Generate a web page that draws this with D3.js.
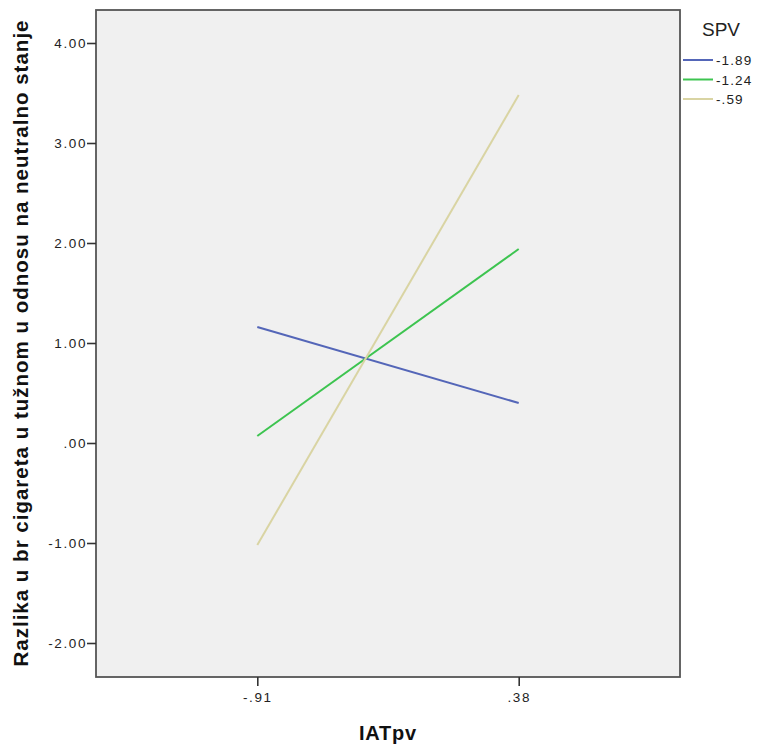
<!DOCTYPE html>
<html>
<head>
<meta charset="utf-8">
<script src="https://cdn.jsdelivr.net/npm/d3@7"></script>
<style>
  html, body { margin: 0; padding: 0; background: #fff; }
  svg text { font-family: "Liberation Sans", Arial, sans-serif; }
</style>
</head>
<body>
<svg id="chart" width="759" height="748"></svg>
<script>
// x categories (IATpv) and one line per SPV level
const categories = ['-.91', '.38'];
const seriesNames = ['-1.89', '-1.24', '-.59'];
const seriesColors = ['#5466b8', '#3dc450', '#d9d4a3'];
const spvLow = [1.16, 0.40];
const spvMid = [0.07, 1.94];
const spvHigh = [-1.02, 3.48];
const yTicks = [-2, -1, 0, 1, 2, 3, 4];
const yTickLabels = ['-2.00', '-1.00', '.00', '1.00', '2.00', '3.00', '4.00'];

const series = [spvLow, spvMid, spvHigh].map((vals, i) => ({
  name: seriesNames[i],
  color: seriesColors[i],
  values: vals.map((v, j) => ({ cat: categories[j], v }))
}));

const svg = d3.select('#chart');
const plot = { left: 96, right: 680, top: 10, bottom: 677 };

const x = d3.scalePoint()
  .domain(categories)
  .range([plot.left, plot.right])
  .padding(0.617);

const y = d3.scaleLinear()
  .domain([-2, 4])
  .range([643, 43]);

// plot background
svg.append('rect')
  .attr('x', plot.left)
  .attr('y', plot.top)
  .attr('width', plot.right - plot.left)
  .attr('height', plot.bottom - plot.top)
  .attr('fill', '#f0f0f0');

// lines
const line = d3.line().x(d => x(d.cat)).y(d => y(d.v));
svg.append('g')
  .selectAll('path')
  .data(series)
  .join('path')
  .attr('d', d => line(d.values))
  .attr('fill', 'none')
  .attr('stroke', d => d.color)
  .attr('stroke-width', 2);

// frame
svg.append('rect')
  .attr('x', plot.left)
  .attr('y', plot.top)
  .attr('width', plot.right - plot.left)
  .attr('height', plot.bottom - plot.top)
  .attr('fill', 'none')
  .attr('stroke', '#555')
  .attr('stroke-width', 1.8);

// y axis
const yAxis = svg.append('g')
  .attr('transform', `translate(${plot.left},0)`)
  .call(d3.axisLeft(y).tickValues(yTicks)
    .tickFormat((d, i) => yTickLabels[i])
    .tickSize(9).tickPadding(0));
yAxis.select('.domain').remove();
yAxis.selectAll('line').attr('stroke', '#333').attr('stroke-width', 1.6);
yAxis.selectAll('text')
  .style('font-size', '13.5px')
  .attr('fill', '#222')
  .attr('letter-spacing', 1.6);

// x axis
const xAxis = svg.append('g')
  .attr('transform', `translate(0,${plot.bottom})`)
  .call(d3.axisBottom(x).tickSize(9).tickPadding(6));
xAxis.select('.domain').remove();
xAxis.selectAll('line').attr('stroke', '#333').attr('stroke-width', 1.6);
xAxis.selectAll('text')
  .style('font-size', '13.5px')
  .attr('fill', '#222')
  .attr('letter-spacing', 1.6);

// axis titles
svg.append('text')
  .attr('x', (plot.left + plot.right) / 2)
  .attr('y', 740)
  .attr('text-anchor', 'middle')
  .attr('font-size', 20)
  .attr('font-weight', 'bold')
  .attr('letter-spacing', 0.8)
  .attr('fill', '#111')
  .text('IATpv');

svg.append('text')
  .attr('transform', `translate(28,${(plot.top + plot.bottom) / 2}) rotate(-90)`)
  .attr('text-anchor', 'middle')
  .attr('font-size', 20.5)
  .attr('font-weight', 'bold')
  .attr('textLength', 646)
  .attr('lengthAdjust', 'spacing')
  .attr('fill', '#111')
  .text('Razlika u br cigareta u tužnom u odnosu na neutralno stanje');

// legend
const legend = svg.append('g');
legend.append('text')
  .attr('x', 721)
  .attr('y', 36)
  .attr('text-anchor', 'middle')
  .attr('font-size', 19)
  .attr('fill', '#222')
  .text('SPV');

const items = legend.selectAll('g.item')
  .data(series)
  .join('g')
  .attr('class', 'item')
  .attr('transform', (d, i) => `translate(683,${60 + i * 19.5})`);
items.append('line')
  .attr('x1', 0).attr('x2', 30)
  .attr('stroke', d => d.color)
  .attr('stroke-width', 2);
items.append('text')
  .attr('x', 33)
  .attr('y', 5)
  .attr('font-size', 13.5)
  .attr('letter-spacing', 1.1)
  .attr('fill', '#222')
  .text(d => d.name);
</script>
</body>
</html>
